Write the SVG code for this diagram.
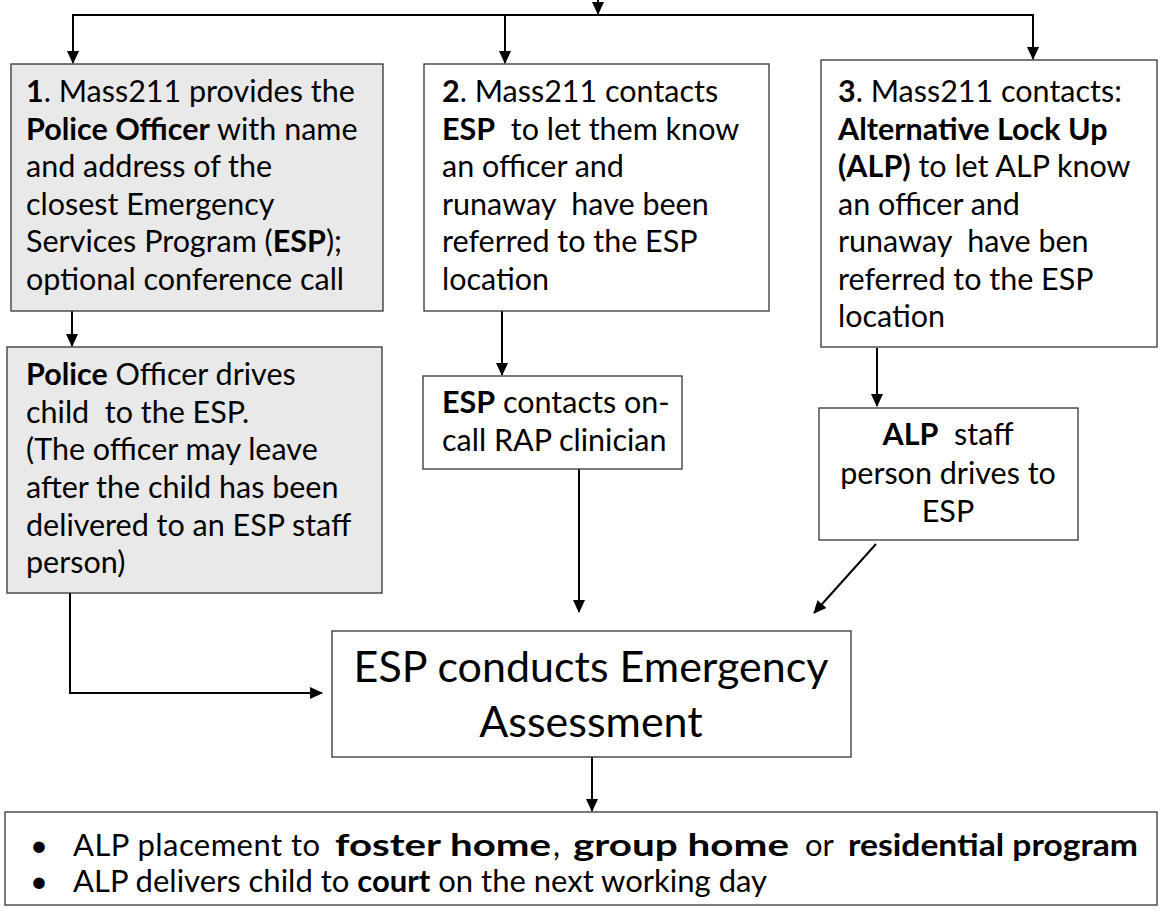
<svg xmlns="http://www.w3.org/2000/svg" width="1168" height="919" viewBox="0 0 1168 919">
<style>
.box{stroke:#333;stroke-width:1.3}
.w{fill:#fff}
.g{fill:#e9e9e9}
.t{font-family:Lato,"Open Sans",sans-serif;font-size:30.5px;fill:#000}
.b{font-weight:bold}
.big{font-size:43px}
.mid{font-size:31px}
.c{stroke:#000;stroke-width:2;fill:none}
</style>
<defs>
<marker id="ah" markerWidth="14" markerHeight="14" refX="12" refY="7" orient="auto" markerUnits="userSpaceOnUse">
<path d="M0,1 L13,7 L0,13 Z" fill="#000"/>
</marker>
</defs>
<rect width="1168" height="919" fill="#fff"/>
<g id="connectors">
<line class="c" x1="598" y1="0" x2="598" y2="14" marker-end="url(#ah)"/>
<polyline class="c" points="73,15 1033,15"/>
<line class="c" x1="73" y1="14" x2="73" y2="63" marker-end="url(#ah)"/>
<line class="c" x1="505" y1="14" x2="505" y2="63" marker-end="url(#ah)"/>
<line class="c" x1="1033" y1="14" x2="1033" y2="59" marker-end="url(#ah)"/>
<line class="c" x1="72" y1="311" x2="72" y2="346" marker-end="url(#ah)"/>
<line class="c" x1="502" y1="311" x2="502" y2="375" marker-end="url(#ah)"/>
<line class="c" x1="877" y1="348" x2="877" y2="406" marker-end="url(#ah)"/>
<line class="c" x1="579" y1="469" x2="579" y2="612" marker-end="url(#ah)"/>
<line class="c" x1="876" y1="544" x2="814" y2="613" marker-end="url(#ah)"/>
<polyline class="c" points="70,593 70,693 322,693" marker-end="url(#ah)"/>
<line class="c" x1="592" y1="757" x2="592" y2="811" marker-end="url(#ah)"/>
</g>
<g id="n1">
<rect class="box g" x="11" y="64" width="372" height="247"/>
<text class="t" x="26" y="102"><tspan class="b">1</tspan>. Mass211 provides the</text>
<text class="t" x="26" y="140"><tspan class="b">Police Officer</tspan> with name</text>
<text class="t" x="26" y="177">and address of the</text>
<text class="t" x="26" y="215">closest Emergency</text>
<text class="t" x="26" y="252">Services Program (<tspan class="b">ESP</tspan>);</text>
<text class="t" x="26" y="290">optional conference call</text>
</g>
<g id="n2">
<rect class="box w" x="424" y="64" width="345" height="247"/>
<text class="t" x="442" y="102"><tspan class="b">2</tspan>. Mass211 contacts</text>
<text class="t" x="442" y="140" xml:space="preserve"><tspan class="b">ESP</tspan>  to let them know</text>
<text class="t" x="442" y="177">an officer and</text>
<text class="t" x="442" y="215" xml:space="preserve">runaway  have been</text>
<text class="t" x="442" y="252">referred to the ESP</text>
<text class="t" x="442" y="290">location</text>
</g>
<g id="n3">
<rect class="box w" x="821" y="60" width="336" height="287"/>
<text class="t" x="838" y="102"><tspan class="b">3</tspan>. Mass211 contacts:</text>
<text class="t b" x="838" y="140">Alternative Lock Up</text>
<text class="t" x="838" y="177"><tspan class="b">(ALP)</tspan> to let ALP know</text>
<text class="t" x="838" y="215">an officer and</text>
<text class="t" x="838" y="252" xml:space="preserve">runaway  have ben</text>
<text class="t" x="838" y="290">referred to the ESP</text>
<text class="t" x="838" y="327">location</text>
</g>
<g id="n1b">
<rect class="box g" x="7" y="347" width="375" height="246"/>
<text class="t" x="26" y="385"><tspan class="b">Police</tspan> Officer drives</text>
<text class="t" x="26" y="423" xml:space="preserve">child  to the ESP.</text>
<text class="t" x="26" y="460">(The officer may leave</text>
<text class="t" x="26" y="498">after the child has been</text>
<text class="t" x="26" y="536">delivered to an ESP staff</text>
<text class="t" x="26" y="573">person)</text>
</g>
<g id="n2b">
<rect class="box w" x="423" y="376" width="259" height="93"/>
<text class="t" x="442" y="413"><tspan class="b">ESP</tspan> contacts on-</text>
<text class="t" x="442" y="451">call RAP clinician</text>
</g>
<g id="n3b">
<rect class="box w" x="819" y="408" width="259" height="132"/>
<text class="t" x="948" y="445" text-anchor="middle" xml:space="preserve"><tspan class="b">ALP</tspan>  staff</text>
<text class="t" x="948" y="484" text-anchor="middle">person drives to</text>
<text class="t" x="948" y="522" text-anchor="middle">ESP</text>
</g>
<g id="center">
<rect class="box w" x="332" y="631" width="519" height="126"/>
<text class="t big" x="591" y="682" text-anchor="middle">ESP conducts Emergency</text>
<text class="t big" x="591" y="737" text-anchor="middle">Assessment</text>
</g>
<g id="outcome">
<rect class="box w" x="5" y="812" width="1152" height="93"/>
<text class="t mid" x="30" y="856">•</text>
<text class="t mid" x="73" y="856" textLength="247" lengthAdjust="spacing">ALP placement to</text>
<text class="t mid b" x="335" y="856" textLength="216" lengthAdjust="spacingAndGlyphs">foster home</text>
<text class="t mid" x="553" y="856">,</text>
<text class="t mid b" x="573" y="856" textLength="216" lengthAdjust="spacingAndGlyphs">group home</text>
<text class="t mid" x="805" y="856">or</text>
<text class="t mid b" x="848" y="856" textLength="290" lengthAdjust="spacingAndGlyphs">residential program</text>
<text class="t mid" x="30" y="892">•</text>
<text class="t mid" x="73" y="892">ALP delivers child to <tspan class="b">court</tspan> on the next working day</text>
</g>
</svg>
